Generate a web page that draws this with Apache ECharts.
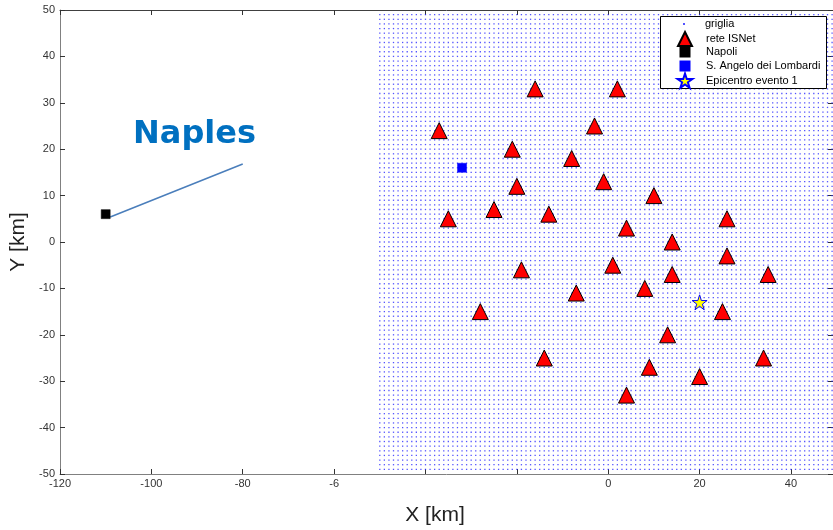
<!DOCTYPE html>
<html>
<head>
<meta charset="utf-8">
<script src="https://cdn.jsdelivr.net/npm/echarts@6/dist/echarts.min.js"></script>
<style>html,body{margin:0;padding:0;background:#fff}#c{width:833px;height:530px}</style>
</head>
<body>
<div id="c"></div>
<script>
// Grid (griglia) extents, 1 km step
const gridXRange = [-50, 50];
const gridYRange = [-49, 49];
const gridStep = 1;

// rete ISNet stations [x, y] km
const isnetStations = [
  [-16, 33], [2, 33], [-37, 24], [-3, 25], [-21, 20], [-8, 18],
  [-20, 12], [-1, 13], [10, 10], [-35, 5], [-25, 7], [-13, 6],
  [4, 3], [26, 5], [14, 0], [26, -3], [1, -5], [-19, -6],
  [14, -7], [35, -7], [8, -10], [-7, -11], [-28, -15], [25, -15],
  [13, -20], [-14, -25], [34, -25], [9, -27], [20, -29], [4, -33]
];
const napoli = [[-110, 6]];
const santAngelo = [[-32, 16]];
const epicentro = [[20, -13]];
const naplesLeader = [[-109, 5.4], [-80, 16.8]];

const xTickHidden = [-40, -20];
const seriesNames = ['griglia', 'rete ISNet', 'Napoli', 'S. Angelo dei Lombardi', 'Epicentro evento 1'];

const gridPts = [];
for (let x = gridXRange[0]; x <= gridXRange[1]; x += gridStep) {
  for (let y = gridYRange[0]; y <= gridYRange[1]; y += gridStep) gridPts.push([x, y]);
}

const starPath = 'path://M50,0 L61.2,34.5 L97.6,34.5 L68.2,55.9 L79.4,90.5 L50,69.1 L20.6,90.5 L31.8,55.9 L2.4,34.5 L38.8,34.5 Z';
const FONT = '"Liberation Sans", Arial, sans-serif';

// one legend per entry: [name, iconSize, rowCenterY]
const legendRows = [
  [seriesNames[0], 2, 24],
  [seriesNames[1], 14, 38],
  [seriesNames[2], 9, 52],
  [seriesNames[3], 9, 66],
  [seriesNames[4], 15, 80]
];
const legendIconCX = 684, legendTextX = 705, legendLineH = 13;
const legends = legendRows.map(([name, s, cy]) => ({
  data: [name], orient: 'vertical', padding: 0, itemGap: 0,
  itemWidth: s, itemHeight: s,
  left: legendIconCX - s / 2,
  top: cy - Math.max(s, legendLineH) / 2,
  textStyle: {
    fontFamily: FONT, fontSize: 11, color: '#000', lineHeight: legendLineH,
    padding: [0, 0, 0, legendTextX - (legendIconCX + s / 2 + 5)]
  }
}));

const chart = echarts.init(document.getElementById('c'), null, {renderer: 'canvas'});
const axisCommon = {type: 'value', splitLine: {show: false}};
const tickStyle = {inside: true, length: 5, lineStyle: {color: '#333'}};
chart.setOption({
  animation: false,
  backgroundColor: '#fff',
  grid: {left: 60, top: 10, right: 0, bottom: 56},
  xAxis: [
    Object.assign({}, axisCommon, {
      min: -120, max: 49.2, interval: 20, position: 'bottom',
      axisLine: {show: true, onZero: false, lineStyle: {color: '#808080', width: 1}},
      axisTick: tickStyle,
      axisLabel: {
        color: '#333', fontFamily: FONT, fontSize: 11, margin: 4, showMaxLabel: false,
        formatter: v => xTickHidden.indexOf(v) >= 0 ? '' : (v === -60 ? '-6' : String(v))
      }
    }),
    Object.assign({}, axisCommon, {
      min: -120, max: 49.2, interval: 20, position: 'top',
      axisLine: {show: true, onZero: false, lineStyle: {color: '#404040', width: 1}},
      axisTick: tickStyle,
      axisLabel: {show: false}
    })
  ],
  yAxis: [
    Object.assign({}, axisCommon, {
      min: -50, max: 50, interval: 10, position: 'left',
      axisLine: {show: true, onZero: false, lineStyle: {color: '#808080', width: 1}},
      axisTick: tickStyle,
      axisLabel: {color: '#333', fontFamily: FONT, fontSize: 11, margin: 5}
    }),
    Object.assign({}, axisCommon, {
      min: -50, max: 50, interval: 10, position: 'right',
      axisLine: {show: false, onZero: false},
      axisTick: tickStyle,
      axisLabel: {show: false}
    })
  ],
  legend: legends,
  graphic: [
    {type: 'rect', shape: {x: 660.5, y: 16.5, width: 166, height: 72}, style: {fill: '#fff', stroke: '#000', lineWidth: 1}, z: 4, silent: true},
    {type: 'text', left: 133, top: 119, style: {text: 'Naples', font: 'bold 32px "DejaVu Sans", Verdana, sans-serif', fill: '#0070c0'}, z: 10},
    {type: 'text', x: 435, y: 515, style: {text: 'X [km]', font: '21px ' + FONT, fill: '#222', textAlign: 'center', textVerticalAlign: 'middle'}},
    {type: 'text', x: 18, y: 242, rotation: Math.PI / 2, style: {text: 'Y [km]', font: '21px ' + FONT, fill: '#222', textAlign: 'center', textVerticalAlign: 'middle'}}
  ],
  series: [
    {
      name: seriesNames[0], type: 'scatter', data: gridPts, symbol: 'rect', symbolSize: 1.3,
      itemStyle: {color: 'rgba(40,40,255,0.8)', opacity: 1}, large: true, largeThreshold: 100000, silent: true
    },
    {
      name: seriesNames[1], type: 'scatter', data: isnetStations, symbol: 'triangle', symbolSize: 16,
      itemStyle: {color: '#ff0000', borderColor: '#000', borderWidth: 1, opacity: 1}, z: 3
    },
    {
      name: seriesNames[2], type: 'scatter', data: napoli, symbol: 'rect', symbolSize: 9,
      itemStyle: {color: '#000', borderColor: '#000', borderWidth: 0.5, opacity: 1}, z: 3
    },
    {
      name: seriesNames[3], type: 'scatter', data: santAngelo, symbol: 'rect', symbolSize: 9,
      itemStyle: {color: '#0000ff', borderColor: '#0000ff', borderWidth: 0.5, opacity: 1}, z: 3
    },
    {
      name: seriesNames[4], type: 'scatter', data: epicentro, symbol: starPath, symbolSize: 15,
      itemStyle: {color: '#ffff00', borderColor: '#0000ff', borderWidth: 1, opacity: 1}, z: 3
    },
    {
      name: 'leader', type: 'line', data: naplesLeader, symbol: 'none',
      lineStyle: {color: '#4a7ebb', width: 1.5}, z: 3
    }
  ]
});
</script>
</body>
</html>
